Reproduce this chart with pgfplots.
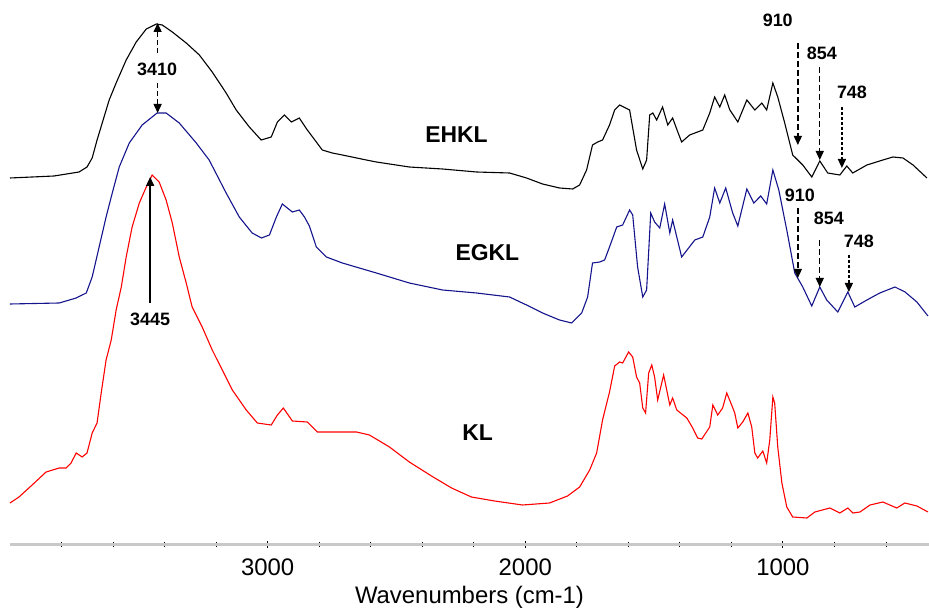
\documentclass[border=0pt]{standalone}
\usepackage{fontspec}
\setmainfont{Liberation Sans}
\usepackage{pgfplots}
\pgfplotsset{compat=1.18}
\usetikzlibrary{arrows.meta}

\definecolor{egkl}{RGB}{20,20,140}
\definecolor{axgray}{RGB}{200,200,200}

\pgfplotstableread{
w y
4000 366
3829 368
3732 372
3701 377
3681 386
3662 404
3642 421
3615 444
3588 461
3549 484
3510 502
3471 515
3432 520
3409 519
3370 512
3316 501
3265 489
3215 472
3161 451
3122 434
3071 417
3025 404
2986 407
2962 422
2935 429
2908 422
2877 426
2846 414
2811 402
2788 394
2749 391
2710 389
2617 384
2578 382
2450 377
2321 375
2189 372
2061 371
1995 366
1933 360
1867 356
1816 355
1789 359
1762 374
1739 399
1719 402
1700 404
1673 419
1653 434
1634 439
1595 434
1568 394
1544 375
1529 384
1517 429
1505 431
1490 424
1467 437
1447 419
1428 426
1408 412
1393 402
1362 409
1311 414
1284 431
1265 447
1245 437
1226 449
1206 434
1175 422
1140 444
1109 434
1082 441
1063 434
1039 461
1020 447
993 421
962 389
923 379
888 367
857 383
826 371
779 369
752 378
729 371
674 379
612 384
573 387
534 386
495 379
441 366
}\ehkl

\pgfplotstableread{
w y
4000 240
3809 241
3743 246
3704 251
3681 267
3654 297
3627 327
3603 351
3576 377
3537 401
3487 419
3429 431
3394 431
3343 421
3277 401
3227 384
3161 351
3110 327
3060 311
3024 306
2993 309
2966 327
2943 340
2904 332
2877 334
2857 327
2838 318
2811 297
2772 287
2710 281
2578 271
2450 261
2321 254
2189 251
2061 247
1995 239
1933 231
1867 224
1820 221
1781 231
1758 247
1739 281
1711 282
1692 284
1673 297
1645 317
1622 319
1595 334
1583 329
1564 277
1544 247
1529 254
1513 331
1498 322
1478 316
1459 340
1439 311
1428 324
1393 287
1342 304
1311 307
1284 327
1265 356
1245 341
1222 356
1195 331
1175 318
1140 355
1113 341
1086 348
1063 340
1039 374
1016 354
985 314
954 271
923 257
888 238
857 257
830 244
787 232
748 252
721 237
674 244
624 251
565 257
526 252
480 242
437 228
}\egkl

\pgfplotstableread{
w y
4000 41
3965 47
3914 59
3860 72
3809 76
3782 76
3763 81
3743 91
3720 87
3701 91
3681 111
3662 121
3646 151
3627 184
3607 204
3588 234
3568 257
3549 287
3526 317
3498 341
3471 357
3448 369
3421 362
3394 344
3370 321
3343 287
3316 261
3293 237
3254 217
3215 194
3176 174
3137 154
3083 134
3040 121
2986 119
2962 129
2939 136
2904 123
2846 122
2807 112
2760 112
2655 112
2605 109
2527 97
2450 82
2364 68
2286 56
2209 47
2119 43
2011 39
1906 41
1836 48
1789 57
1750 74
1723 91
1700 124
1673 152
1653 178
1634 182
1622 181
1599 192
1583 187
1568 167
1556 161
1544 136
1533 131
1521 171
1509 179
1498 167
1486 144
1474 157
1463 169
1451 154
1439 139
1428 146
1412 134
1373 126
1350 116
1331 106
1315 105
1284 117
1272 139
1253 129
1234 136
1218 151
1199 139
1187 131
1175 116
1156 122
1136 131
1121 117
1109 91
1098 86
1078 93
1063 81
1051 104
1039 147
1032 141
1020 97
1004 61
985 37
962 27
907 26
876 32
818 36
779 31
748 36
728 31
701 32
662 39
612 42
558 36
527 41
480 38
437 32
}\kl

\begin{document}
\begin{tikzpicture}
\begin{axis}[
    width=919bp, height=544bp, scale only axis,
    x dir=reverse,
    xmin=433, xmax=4000,
    ymin=0, ymax=544,
    axis x line=bottom, axis y line=none,
    x axis line style={-, draw=axgray, line width=3bp},
    ytick=\empty,
    xtick={1000,2000,3000},
    minor xtick={600,800,1200,1400,1600,1800,2200,2400,2600,2800,3200,3400,3600,3800},
    tick align=center,
    major tick length=7bp, minor tick length=5bp,
    every tick/.style={black, line width=0.9bp},
    /pgf/number format/1000 sep={},
    /pgf/number format/assume math mode=true,
    xticklabel style={font=\fontsize{24}{26}\selectfont, yshift=-8bp},
    xlabel={Wavenumbers (cm-1)},
    xlabel style={font=\fontsize{24}{26}\selectfont,
                  at={(axis description cs:0.5,0)}, anchor=center, yshift=-53bp},
    clip=false,
]
\addplot[black, line width=1.1bp] table[x=w, y=y] {\ehkl};
\addplot[egkl, line width=1.1bp] table[x=w, y=y] {\egkl};
\addplot[red, line width=1.1bp] table[x=w, y=y] {\kl};

% curve names
\node[font=\fontsize{23}{25}\selectfont\bfseries] at (axis cs:2267,409) {EHKL};
\node[font=\fontsize{23}{25}\selectfont\bfseries] at (axis cs:2147,291) {EGKL};
\node[font=\fontsize{23}{25}\selectfont\bfseries] at (axis cs:2185,111) {KL};

% peak marks
\tikzset{lab/.style={font=\fontsize{18}{20}\selectfont\bfseries},
         arr/.style={line width=1.4bp, -{Triangle[length=9bp,width=8bp]}}}
\draw[arr, dash pattern=on 5bp off 3bp] (axis cs:3427,491) -- (axis cs:3427,521);
\draw[arr, dash pattern=on 5bp off 3bp] (axis cs:3427,461) -- (axis cs:3427,431);
\node[lab] at (axis cs:3429,475) {3410};
\draw[arr] (axis cs:3456,241) -- (axis cs:3456,367);
\node[lab] at (axis cs:3456,225) {3445};

\node[lab] at (axis cs:1020,524) {910};
\draw[arr, dash pattern=on 6bp off 3bp] (axis cs:942,501) -- (axis cs:942,399);
\node[lab] at (axis cs:849,491) {854};
\draw[arr, dash pattern=on 6bp off 3bp] (axis cs:857,477) -- (axis cs:857,384);
\node[lab] at (axis cs:732,452) {748};
\draw[arr, dash pattern=on 3bp off 2bp] (axis cs:771,437) -- (axis cs:771,376);

\node[lab] at (axis cs:934,349) {910};
\draw[arr, dash pattern=on 6bp off 3bp] (axis cs:942,336) -- (axis cs:942,266);
\node[lab] at (axis cs:822,326) {854};
\draw[arr, dash pattern=on 6bp off 3bp] (axis cs:857,304) -- (axis cs:857,257);
\node[lab] at (axis cs:705,303) {748};
\draw[arr, dash pattern=on 3bp off 2bp] (axis cs:744,289) -- (axis cs:744,252);
\end{axis}
\pgfresetboundingbox
\path ([xshift=-10bp,yshift=-66bp]current axis.south west) rectangle (current axis.north east);
\end{tikzpicture}
\end{document}
